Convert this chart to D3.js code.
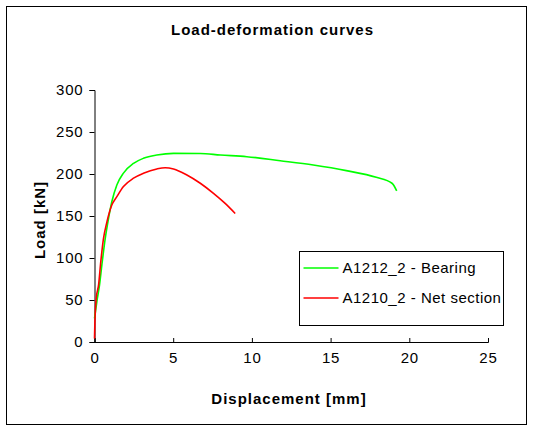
<!DOCTYPE html>
<html>
<head>
<meta charset="utf-8">
<script src="https://cdn.jsdelivr.net/npm/d3@7"></script>
<style>
  body { margin: 0; background: #fff; }
  text { font-family: "Liberation Sans", Arial, sans-serif; }
</style>
</head>
<body>
<svg id="drawing_region"></svg>
<script>
// displacement [mm] / load [kN]
const bearingX = [0.0, 0.15, 0.32, 0.47, 0.68, 0.89, 1.1, 1.42, 1.84, 2.48, 3.11, 3.96, 5.02, 6.72, 8.0, 9.68, 11.8, 13.9, 16.0, 17.9, 18.9, 19.2];
const bearingY = [28, 48, 68, 92, 123, 147, 167, 187, 201, 212.7, 218.7, 222.6, 224.6, 224.4, 222.6, 220.6, 215.8, 210.7, 204, 196, 189, 180];
const netX = [0.0, 0.02, 0.11, 0.26, 0.4, 0.57, 0.79, 1.1, 1.42, 1.84, 2.48, 3.11, 3.96, 4.49, 5.02, 5.87, 6.72, 7.56, 8.3, 8.94];
const netY = [4, 20, 52, 68, 95.6, 123, 143, 163, 173, 185, 195, 200.8, 206, 207.5, 206, 198.8, 189, 177, 165, 153];
const seriesNames = ['A1212_2 - Bearing', 'A1210_2 - Net section'];
const seriesColors = ['#00ff00', '#ff0000'];
const xTicks = [0, 5, 10, 15, 20, 25];
const yTicks = [0, 50, 100, 150, 200, 250, 300];

const config = {
    parent: '#drawing_region',
    width: 537,
    height: 428,
    margin: { left: 94, top: 90 }
};

const series = [
    bearingX.map((x, i) => ({ x: x, y: bearingY[i] })),
    netX.map((x, i) => ({ x: x, y: netY[i] }))
];

const svg = d3.select(config.parent)
    .attr('width', config.width)
    .attr('height', config.height);

// outer frame
svg.append('rect')
    .attr('x', 6.5).attr('y', 6.5)
    .attr('width', 520).attr('height', 418)
    .attr('fill', 'none').attr('stroke', '#000');

const xScale = d3.scaleLinear().domain([0, 25]).range([0, 393.5]);
const yScale = d3.scaleLinear().domain([0, 300]).range([252, 0]);

const chart = svg.append('g')
    .attr('transform', `translate(${config.margin.left + 0.5}, ${config.margin.top})`);

const xAxis = d3.axisBottom(xScale).tickValues(xTicks).tickSize(-4).tickPadding(10);
const yAxis = d3.axisLeft(yScale).tickValues(yTicks).tickSize(5).tickPadding(6);

const gx = chart.append('g')
    .attr('transform', `translate(0, ${yScale(0)})`)
    .call(xAxis);
const gy = chart.append('g').call(yAxis);

[gx, gy].forEach(g => {
    g.select('.domain').attr('stroke', '#000');
    g.selectAll('.tick line').attr('stroke', '#000');
    g.selectAll('.tick text')
        .attr('fill', '#000')
        .style('font-size', '15px')
        .style('letter-spacing', '0.8px')
        .style('font-family', '"Liberation Sans", Arial, sans-serif');
});
gx.selectAll('.tick text').attr('dy', '0.71em');

const line = d3.line()
    .x(d => xScale(d.x))
    .y(d => yScale(d.y))
    .curve(d3.curveMonotoneX);

chart.selectAll('.series')
    .data(series)
    .enter()
    .append('path')
    .attr('class', 'series')
    .attr('d', line)
    .attr('fill', 'none')
    .attr('stroke', (d, i) => seriesColors[i])
    .attr('stroke-width', 1.6);

// title and axis labels
svg.append('text')
    .attr('x', 272.5).attr('y', 35)
    .attr('text-anchor', 'middle')
    .style('font-size', '15px').style('font-weight', 'bold')
    .style('letter-spacing', '1px')
    .text('Load-deformation curves');

svg.append('text')
    .attr('x', 289).attr('y', 404)
    .attr('text-anchor', 'middle')
    .style('font-size', '15px').style('font-weight', 'bold')
    .style('letter-spacing', '1px')
    .text('Displacement [mm]');

svg.append('text')
    .attr('transform', 'translate(45, 220) rotate(-90)')
    .attr('text-anchor', 'middle')
    .style('font-size', '15px').style('font-weight', 'bold')
    .style('letter-spacing', '1px')
    .text('Load [kN]');

// legend
const legend = svg.append('g').attr('transform', 'translate(299.5, 251.5)');
legend.append('rect')
    .attr('width', 204).attr('height', 74)
    .attr('fill', '#fff').attr('stroke', '#000');

const items = legend.selectAll('.item')
    .data(seriesNames)
    .enter()
    .append('g')
    .attr('transform', (d, i) => `translate(0, ${16.5 + i * 30})`);

items.append('line')
    .attr('x1', 4).attr('x2', 39)
    .attr('stroke', (d, i) => seriesColors[i])
    .attr('stroke-width', 1.6);

items.append('text')
    .attr('x', 43).attr('dy', '0.35em')
    .style('font-size', '15px')
    .style('letter-spacing', '0.5px')
    .text(d => d);
</script>
</body>
</html>
